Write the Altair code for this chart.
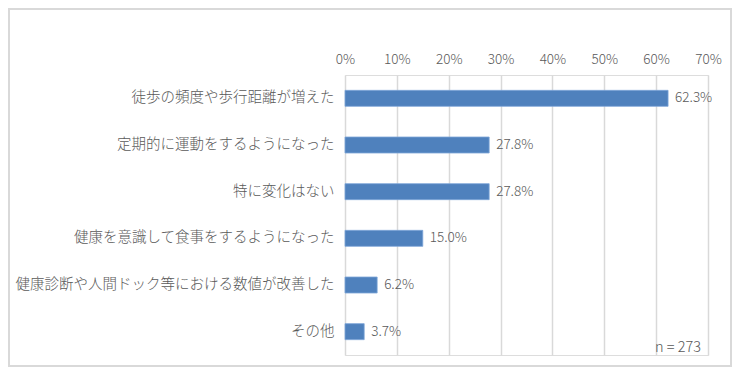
import altair as alt
import pandas as pd

categories = [
    "徒歩の頻度や歩行距離が増えた",
    "定期的に運動をするようになった",
    "特に変化はない",
    "健康を意識して食事をするようになった",
    "健康診断や人間ドック等における数値が改善した",
    "その他",
]
values = [62.3, 27.8, 27.8, 15.0, 6.2, 3.7]
ticks = [0, 10, 20, 30, 40, 50, 60, 70]
note = "n = 273"

df = pd.DataFrame({"cat": categories, "val": values})
df["label"] = [f"{v:.1f}%" for v in values]

FONT = "Noto Sans CJK JP"
GRAY = "#595959"

W, H = 363, 280
PL, PT = 337, 67
TW, TH = 724, 359

y_enc = alt.Y("cat:N", sort=categories, title=None,
              axis=alt.Axis(labelFontSize=14.5, labelColor=GRAY, labelFont=FONT,
                            labelFontWeight=300,
                            ticks=False, domain=False, labelPadding=11,
                            labelLimit=400, grid=False))
x_scale = alt.Scale(domain=[0, 70], nice=False)

bars = alt.Chart(df).mark_bar(size=16, color="#4F81BD", stroke="#7EA6D8",
                              strokeWidth=0.8).encode(
    x=alt.X("val:Q", scale=x_scale, title=None,
            axis=alt.Axis(orient="top", values=ticks, labelExpr="datum.value + '%'",
                          labelFontSize=13.5, labelColor=GRAY, labelFont=FONT,
                          labelFontWeight=300, labelFlush=False, labelOverlap=False,
                          ticks=False, domain=False, labelPadding=9,
                          grid=True, gridColor="#D9D9D9", gridWidth=1.5)),
    y=y_enc,
)

labels = alt.Chart(df).mark_text(align="left", baseline="middle", dx=7,
                                 fontSize=13.5, color=GRAY, font=FONT,
                                 fontWeight=300).encode(
    x=alt.X("val:Q", scale=x_scale),
    y=alt.Y("cat:N", sort=categories),
    text="label:N",
)

ann = alt.Chart(pd.DataFrame({"t": [note]})).mark_text(
    align="right", baseline="middle", fontSize=14.5, color=GRAY, font=FONT,
    fontWeight=300
).encode(x=alt.value(356), y=alt.value(273), text="t:N")

border = alt.Chart(pd.DataFrame({"a": [0]})).mark_rect(
    fill=None, stroke="#D9D9D9", strokeWidth=2
).encode(x=alt.value(-PL + 1), x2=alt.value(TW - PL - 1),
         y=alt.value(-PT + 1), y2=alt.value(TH - PT - 1))

chart = alt.layer(bars, labels, ann, border).properties(
    width=W, height=H,
    autosize=alt.AutoSizeParams(type="none"),
    padding={"left": PL, "top": PT, "right": TW - PL - W, "bottom": TH - PT - H},
).configure_view(stroke=None).configure(background="white")

chart.save("out.html", embed_options={"renderer": "svg", "actions": False})
